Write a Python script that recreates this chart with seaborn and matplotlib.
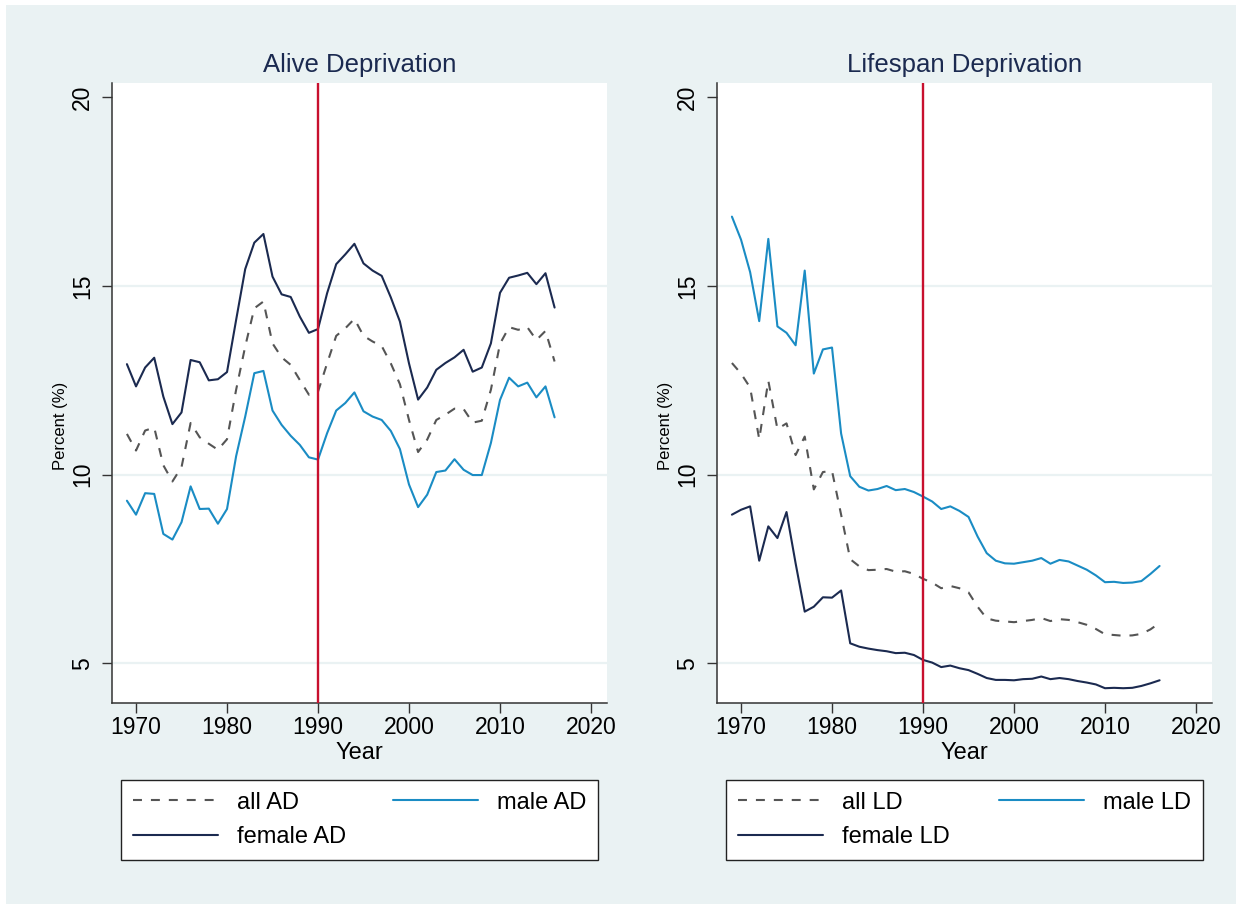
import numpy as np
import pandas as pd
import matplotlib
matplotlib.use("Agg")
import matplotlib.pyplot as plt
from matplotlib.patches import Rectangle
from matplotlib.lines import Line2D
import seaborn as sns

# ---- data -------------------------------------------------------------
years = list(range(1969, 2017))

all_ad = [11.08, 10.64, 11.17, 11.25, 10.25, 9.82, 10.20, 11.37, 10.99, 10.82,
          10.66, 10.94, 12.25, 13.40, 14.41, 14.59, 13.48, 13.11, 12.91, 12.51,
          12.12, 12.20, 12.95, 13.68, 13.88, 14.13, 13.68, 13.53, 13.41, 12.95,
          12.40, 11.45, 10.60, 10.93, 11.45, 11.59, 11.75, 11.74, 11.38, 11.43,
          12.25, 13.47, 13.91, 13.84, 13.91, 13.57, 13.81, 13.00]
male_ad = [9.31, 8.94, 9.51, 9.49, 8.43, 8.28, 8.74, 9.69, 9.09, 9.10,
           8.70, 9.09, 10.49, 11.54, 12.69, 12.75, 11.70, 11.32, 11.03, 10.79,
           10.46, 10.40, 11.10, 11.70, 11.90, 12.18, 11.68, 11.54, 11.45, 11.16,
           10.68, 9.74, 9.14, 9.47, 10.07, 10.11, 10.41, 10.13, 9.99, 9.99,
           10.84, 11.98, 12.57, 12.34, 12.44, 12.05, 12.34, 11.52]
female_ad = [12.93, 12.34, 12.84, 13.10, 12.07, 11.34, 11.65, 13.04, 12.98, 12.50,
             12.53, 12.72, 14.10, 15.45, 16.15, 16.38, 15.25, 14.78, 14.71, 14.19,
             13.76, 13.86, 14.81, 15.58, 15.84, 16.12, 15.60, 15.41, 15.27, 14.70,
             14.06, 12.95, 11.99, 12.31, 12.78, 12.96, 13.11, 13.31, 12.73, 12.84,
             13.48, 14.82, 15.22, 15.28, 15.35, 15.05, 15.34, 14.43]

all_ld = [12.96, 12.68, 12.31, 10.94, 12.49, 11.21, 11.36, 10.52, 11.01, 9.61,
          10.07, 10.10, 8.94, 7.76, 7.57, 7.47, 7.48, 7.50, 7.43, 7.44,
          7.37, 7.24, 7.14, 6.99, 7.05, 6.99, 6.88, 6.50, 6.19, 6.13,
          6.11, 6.09, 6.12, 6.15, 6.20, 6.12, 6.17, 6.15, 6.09, 6.02,
          5.91, 5.77, 5.75, 5.73, 5.74, 5.78, 5.90, 6.07]
male_ld = [16.84, 16.23, 15.37, 14.07, 16.25, 13.93, 13.76, 13.43, 15.41, 12.68,
           13.32, 13.37, 11.09, 9.96, 9.68, 9.58, 9.62, 9.70, 9.59, 9.62,
           9.54, 9.42, 9.29, 9.09, 9.16, 9.04, 8.88, 8.36, 7.92, 7.72,
           7.65, 7.64, 7.68, 7.72, 7.79, 7.64, 7.74, 7.70, 7.59, 7.48,
           7.33, 7.15, 7.16, 7.13, 7.14, 7.18, 7.37, 7.58]
female_ld = [8.94, 9.07, 9.16, 7.72, 8.63, 8.32, 9.01, 7.65, 6.37, 6.50,
             6.75, 6.74, 6.93, 5.53, 5.44, 5.39, 5.35, 5.32, 5.27, 5.28,
             5.22, 5.09, 5.02, 4.90, 4.94, 4.87, 4.82, 4.72, 4.61, 4.56,
             4.56, 4.55, 4.58, 4.59, 4.65, 4.58, 4.61, 4.58, 4.53, 4.49,
             4.44, 4.34, 4.35, 4.34, 4.35, 4.40, 4.47, 4.55]

reform_year = 1990
x_ticks = [1970, 1980, 1990, 2000, 2010, 2020]
y_ticks = [5, 10, 15, 20]
grid_levels = [5, 10, 15]

panels = [
    ("Alive Deprivation", "AD", {"all": all_ad, "male": male_ad, "female": female_ad}),
    ("Lifespan Deprivation", "LD", {"all": all_ld, "male": male_ld, "female": female_ld}),
]

# ---- style ------------------------------------------------------------
sns.set_theme(style="white")
plt.rcParams["font.family"] = ["Liberation Sans", "DejaVu Sans"]

BG = "#EAF2F3"
NAVY = "#1B2A50"
CYAN = "#1A8CC4"
GREY = "#555555"
RED = "#C8102E"
colors = {"all": GREY, "male": CYAN, "female": NAVY}
dashes = {"all": (4.3, 4.3), "male": "", "female": ""}

W, H = 1252, 909
fig = plt.figure(figsize=(W / 100, H / 100), dpi=100, facecolor="white")
fig.patches.append(Rectangle((6 / W, 1 - 904 / H), (1236 - 6) / W, (904 - 5) / H,
                             transform=fig.transFigure, facecolor=BG,
                             edgecolor="none", zorder=-10))

ax_left = [112, 717]
ax_w, top, bottom = 495, 82.7, 703.3

for i, (title, suffix, series) in enumerate(panels):
    ax = fig.add_axes([ax_left[i] / W, 1 - bottom / H, ax_w / W, (bottom - top) / H])
    ax.set_facecolor("white")

    frames = [pd.DataFrame({"Year": years, "Percent": vals, "group": g})
              for g, vals in series.items()]
    df = pd.concat(frames, ignore_index=True)

    for lvl in grid_levels:
        ax.axhline(lvl, color=BG, lw=1.6, zorder=1)

    sns.lineplot(data=df, x="Year", y="Percent", hue="group", style="group",
                 palette=colors, dashes=dashes, linewidth=1.5,
                 legend=False, ax=ax, zorder=3)

    ax.axvline(reform_year, color=RED, lw=1.7, zorder=4)

    ax.set_xlim(1967.36, 2021.76)
    ax.set_ylim(3.94, 20.39)
    ax.set_xticks(x_ticks)
    ax.set_yticks(y_ticks)
    ax.set_yticklabels([str(t) for t in y_ticks], rotation=90, va="center")
    ax.tick_params(axis="both", direction="out", length=7, width=1,
                   color="#333333", labelsize=16.5, labelcolor="black",
                   left=True, bottom=True)
    ax.tick_params(axis="x", pad=2)
    ax.tick_params(axis="y", pad=6)

    for side in ("top", "right"):
        ax.spines[side].set_visible(False)
    for side in ("left", "bottom"):
        ax.spines[side].set_color("#333333")
        ax.spines[side].set_linewidth(1.1)

    ax.set_xlabel("Year", fontsize=17, color="black", labelpad=2)
    ax.set_ylabel("Percent (%)", fontsize=12, color="black")
    ax.yaxis.set_label_coords(-0.089, 0.447)
    ax.set_title(title, fontsize=18.5, color=NAVY, pad=8)

    handles = [
        Line2D([], [], color=GREY, lw=1.5, dashes=dashes["all"]),
        Line2D([], [], color=NAVY, lw=1.5),
        Line2D([], [], color=CYAN, lw=1.5),
    ]
    labels = [f"all {suffix}", f"female {suffix}", f"male {suffix}"]
    lx = (121 if i == 0 else 726) / W
    leg = fig.legend(handles, labels, ncol=2, mode="expand",
                     loc="center", bbox_to_anchor=(lx, 1 - 860 / H, 477 / W, 80 / H),
                     fontsize=17, frameon=True, fancybox=False,
                     edgecolor="#222222", facecolor="white", framealpha=1,
                     handlelength=3.6, handletextpad=0.8, labelspacing=0.55,
                     borderpad=0.5, borderaxespad=0)
    leg.get_frame().set_linewidth(1.0)
    for t in leg.get_texts():
        t.set_color("black")

fig.savefig("out.png", dpi=100, facecolor="white")
